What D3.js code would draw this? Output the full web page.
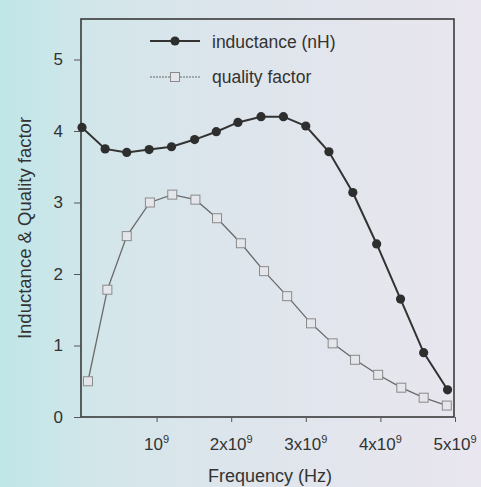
<!DOCTYPE html>
<html>

<head>
  <meta charset="utf-8">
  <title>Inductance and Quality factor</title>
  <script src="https://cdn.jsdelivr.net/npm/d3@7"></script>
  <style>
    body { margin: 0; }
    text { font-family: "Liberation Sans", Arial, sans-serif; fill: #333; }
  </style>
</head>

<body>
  <script type="text/javascript">
    // data (frequency in Hz)
    var indFreq = [0, 0.31e9, 0.60e9, 0.90e9, 1.20e9, 1.51e9, 1.80e9, 2.09e9, 2.40e9, 2.70e9,
      3.00e9, 3.31e9, 3.63e9, 3.95e9, 4.27e9, 4.58e9, 4.90e9];
    var inductance = [4.05, 3.75, 3.70, 3.74, 3.78, 3.88, 3.99, 4.12, 4.20, 4.20,
      4.07, 3.71, 3.14, 2.42, 1.65, 0.90, 0.38];

    var qFreq = [0.08e9, 0.34e9, 0.60e9, 0.91e9, 1.21e9, 1.52e9, 1.81e9, 2.13e9, 2.44e9, 2.75e9,
      3.07e9, 3.36e9, 3.66e9, 3.97e9, 4.28e9, 4.58e9, 4.89e9];
    var quality = [0.50, 1.78, 2.53, 3.00, 3.11, 3.04, 2.78, 2.43, 2.04, 1.69,
      1.31, 1.03, 0.80, 0.59, 0.41, 0.27, 0.16];

    var xTicks = [1e9, 2e9, 3e9, 4e9, 5e9];
    var xTickLabels = ["10", "2x10", "3x10", "4x10", "5x10"];
    var yTicks = [0, 1, 2, 3, 4, 5];

    //Width and height
    var w = 481;
    var h = 487;

    var svg = d3.select("body")
      .append("svg")
      .attr("width", w)
      .attr("height", h);

    // scanned-paper background
    var grad = svg.append("defs").append("linearGradient")
      .attr("id", "bg").attr("x1", "0").attr("x2", "1").attr("y1", "0").attr("y2", "0");
    grad.append("stop").attr("offset", "0").attr("stop-color", "#bfe6e8");
    grad.append("stop").attr("offset", "0.2").attr("stop-color", "#d3e6ea");
    grad.append("stop").attr("offset", "0.55").attr("stop-color", "#dfe5ec");
    grad.append("stop").attr("offset", "1").attr("stop-color", "#e9e6ef");
    svg.append("rect").attr("width", w).attr("height", h).attr("fill", "url(#bg)");

    var plotL = 81, plotR = 454, plotT = 19, plotB = 417;

    var x = d3.scaleLinear().domain([0, 5e9]).range([82, 455]);
    var y = d3.scaleLinear().domain([0, 5]).range([plotB, plotB - 5 * 71.5]);

    // frame
    svg.append("rect")
      .attr("x", plotL).attr("y", plotT)
      .attr("width", plotR - plotL).attr("height", plotB - plotT)
      .attr("fill", "none").attr("stroke", "#3a3a3a").attr("stroke-width", 1.6);

    // axes
    var yAxis = d3.axisLeft(y).tickValues(yTicks).tickSize(7).tickPadding(11).tickFormat(d3.format("d"));
    var gy = svg.append("g").attr("transform", "translate(" + plotL + ",0)").call(yAxis);
    gy.select(".domain").remove();
    gy.selectAll("line").attr("stroke", "#555");
    gy.selectAll("text").style("font-size", "17px").attr("fill", "#333");

    var xAxis = d3.axisBottom(x).tickValues(xTicks).tickSize(5).tickFormat("");
    var gx = svg.append("g").attr("transform", "translate(0," + plotB + ")").call(xAxis);
    gx.select(".domain").remove();
    gx.selectAll("line").attr("stroke", "#555");

    var xl = svg.append("g").selectAll("text")
      .data(xTicks)
      .enter()
      .append("text")
      .attr("x", function(d) { return x(d); })
      .attr("y", 450)
      .attr("text-anchor", "middle")
      .style("font-size", "17px");
    xl.append("tspan").text(function(d, i) { return xTickLabels[i]; });
    xl.append("tspan").attr("dy", -7).style("font-size", "11px").text("9");

    svg.append("text")
      .attr("x", 270).attr("y", 482)
      .attr("text-anchor", "middle")
      .style("font-size", "18px")
      .text("Frequency (Hz)");

    svg.append("text")
      .attr("transform", "translate(31,228) rotate(-90)")
      .attr("text-anchor", "middle")
      .style("font-size", "18.5px")
      .text("Inductance & Quality factor");

    var line = d3.line()
      .x(function(d) { return x(d[0]); })
      .y(function(d) { return y(d[1]); });

    var qData = d3.zip(qFreq, quality);
    var indData = d3.zip(indFreq, inductance);

    // quality factor
    svg.append("path")
      .datum(qData)
      .attr("d", line)
      .attr("fill", "none")
      .attr("stroke", "#6a6a6a")
      .attr("stroke-width", 1.3);

    svg.append("g").selectAll("rect")
      .data(qData)
      .enter()
      .append("rect")
      .attr("x", function(d) { return x(d[0]) - 4.5; })
      .attr("y", function(d) { return y(d[1]) - 4.5; })
      .attr("width", 9).attr("height", 9)
      .attr("fill", "#e4e6ec")
      .attr("stroke", "#8a8a8a")
      .attr("stroke-width", 1);

    // inductance
    svg.append("path")
      .datum(indData)
      .attr("d", line)
      .attr("fill", "none")
      .attr("stroke", "#333")
      .attr("stroke-width", 2);

    svg.append("g").selectAll("circle")
      .data(indData)
      .enter()
      .append("circle")
      .attr("cx", function(d) { return x(d[0]); })
      .attr("cy", function(d) { return y(d[1]); })
      .attr("r", 4.6)
      .attr("fill", "#2e2e2e");

    // legend
    var lg = svg.append("g");
    lg.append("line").attr("x1", 150).attr("x2", 200).attr("y1", 41).attr("y2", 41)
      .attr("stroke", "#333").attr("stroke-width", 2);
    lg.append("circle").attr("cx", 175).attr("cy", 41).attr("r", 4.6).attr("fill", "#2e2e2e");
    lg.append("text").attr("x", 212).attr("y", 48).style("font-size", "17.5px").text("inductance (nH)");

    lg.append("line").attr("x1", 150).attr("x2", 200).attr("y1", 77).attr("y2", 77)
      .attr("stroke", "#6a6a6a").attr("stroke-width", 1.2).attr("stroke-dasharray", "2,1");
    lg.append("rect").attr("x", 170.5).attr("y", 72.5).attr("width", 9).attr("height", 9)
      .attr("fill", "#e4e6ec").attr("stroke", "#8a8a8a");
    lg.append("text").attr("x", 212).attr("y", 83).style("font-size", "17.5px").text("quality factor");
  </script>

</body>

</html>
